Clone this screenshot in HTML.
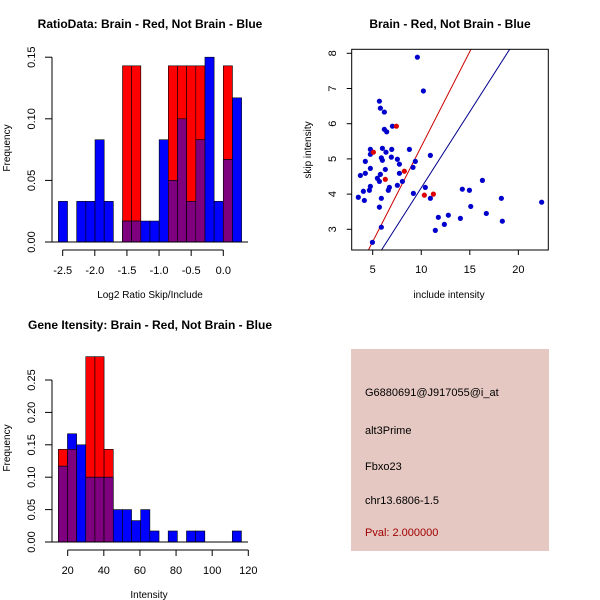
<!DOCTYPE html>
<html><head><meta charset="utf-8"><style>
html,body{margin:0;padding:0;background:#fff}
svg{display:block;font-family:"Liberation Sans",sans-serif}
</style></head><body>
<svg id="c" width="600" height="600" viewBox="0 0 600 600"></svg>
<script>
// ---- Data: RatioData histogram ----
const ratioStart = -2.567, ratioWidth = 0.1426;
const ratioBrain = [0,0,0,0,0,0,0,0.143,0.143,0,0,0,0.143,0.143,0.143,0.143,0,0,0.143,0];
const ratioNotBrain = [0.033,0,0.033,0.033,0.083,0.033,0,0.017,0.017,0.017,0.017,0.083,0.05,0.1,0.033,0.083,0.15,0.033,0.067,0.117];
const ratioXTicks = [-2.5,-2.0,-1.5,-1.0,-0.5,0.0];
const ratioXTickLabels = ["-2.5","-2.0","-1.5","-1.0","-0.5","0.0"];
const ratioYTicks = [0,0.05,0.10,0.15];
const ratioYTickLabels = ["0.00","0.05","0.10","0.15"];
// ---- Data: scatter ----
const blueX = [9.6,10.22,5.69,5.79,6.2,6.2,6.44,7.03,6.0,6.96,8.78,4.76,4.76,6.37,10.94,5.89,6.0,6.92,4.24,9.39,7.54,7.75,6.3,4.76,3.73,4.24,5.79,7.75,9.15,5.48,5.69,8.06,7.54,6.72,6.61,4.76,4.66,10.42,4.04,3.52,4.14,9.19,10.94,14.23,14.96,16.3,5.89,5.69,15.1,18.25,22.4,16.7,18.35,12.79,11.76,14.03,12.38,11.45,5.89,4.97];
const blueY = [7.89,6.93,6.64,6.44,6.33,5.84,5.77,5.93,5.30,5.27,5.27,5.27,5.13,5.19,5.10,5.03,4.96,5.05,4.93,4.93,4.99,4.85,4.70,4.73,4.53,4.59,4.56,4.59,4.76,4.45,4.36,4.36,4.25,4.19,4.11,4.22,4.11,4.19,4.08,3.91,3.82,4.02,3.88,4.14,4.11,4.39,3.88,3.63,3.65,3.88,3.77,3.45,3.23,3.40,3.34,3.31,3.14,2.97,3.06,2.63];
const redX = [7.44,5.07,6.3,8.26,10.32,11.25];
const redY = [5.93,5.19,4.42,4.65,3.97,4.0];
const redLine = [-0.05,0.54];   // intercept, slope
const blueLine = [-0.14,0.432];
const scXTicks = [5,10,15,20];
const scYTicks = [3,4,5,6,7,8];
// ---- Data: Gene intensity histogram ----
const intStart = 14.8, intWidth = 5.07;
const intBrain = [0.143,0.143,0,0.286,0.286,0.143,0,0,0,0,0,0,0,0,0,0,0,0,0,0];
const intNotBrain = [0.117,0.167,0.15,0.1,0.1,0.1,0.05,0.05,0.033,0.05,0.017,0,0.017,0,0.017,0.017,0,0,0,0.017];
const intXTicks = [20,40,60,80,100,120];
const intYTicks = [0,0.05,0.10,0.15,0.20,0.25];
const intYTickLabels = ["0.00","0.05","0.10","0.15","0.20","0.25"];

const svg = document.getElementById('c');
const NS = 'http://www.w3.org/2000/svg';
function mk(tag, attrs, parent){
  const e = document.createElementNS(NS, tag);
  for (const k in attrs) e.setAttribute(k, attrs[k]);
  (parent||svg).appendChild(e);
  return e;
}
function txt(s, x, y, size, attrs, parent){
  const t = mk('text', Object.assign({x:x, y:y, 'font-size':size, 'text-anchor':'middle', fill:'#000'}, attrs||{}), parent);
  t.textContent = s;
  return t;
}

function histogram(name, g, start, width, brain, notBrain, sx, sy, x0, y0){
  for (let i=0;i<brain.length;i++){
    const xa = sx(start+i*width), xb = sx(start+(i+1)*width);
    const r = brain[i], b = notBrain[i];
    const m = Math.min(r,b);
    if (r>0){
      const e = mk('rect',{x:xa,y:sy(r),width:xb-xa,height:sy(0)-sy(r),fill:'#ff0000',stroke:'#000','stroke-width':0.6},g);
      
      
    }
    if (b>0){
      const e = mk('rect',{x:xa,y:sy(b),width:xb-xa,height:sy(0)-sy(b),fill:b>r?'#0000ff':'none',stroke:'#000','stroke-width':0.6},g);
      
      
    }
    if (m>0){
      const e = mk('rect',{x:xa,y:sy(m),width:xb-xa,height:sy(0)-sy(m),fill:'#7f007f',stroke:'#000','stroke-width':0.6},g);
      
      
    }
  }
}

function yAxis(g, ticks, labels, sy, x){
  mk('line',{x1:x,y1:sy(ticks[0]),x2:x,y2:sy(ticks[ticks.length-1]),stroke:'#000'},g);
  ticks.forEach((v,i)=>{
    mk('line',{x1:x-7,y1:sy(v),x2:x,y2:sy(v),stroke:'#000'},g);
    const t = txt(labels[i], x-17, sy(v), 11, {transform:`rotate(-90 ${x-17} ${sy(v)})`}, g);
    
    
  });
}
function xAxis(g, ticks, labels, sx, y){
  mk('line',{x1:sx(ticks[0]),y1:y,x2:sx(ticks[ticks.length-1]),y2:y,stroke:'#000'},g);
  ticks.forEach((v,i)=>{
    mk('line',{x1:sx(v),y1:y,x2:sx(v),y2:y+6,stroke:'#000'},g);
    const t = txt(labels[i], sx(v), y+24, 11, {}, g);
    
    
  });
}

// Panel 1
(function(){
  const g = mk('g',{});
  
  
  const sx = v => 223.3 + v*64.25;
  const sy = v => 242 - v*1232;
  histogram('ratio', g, ratioStart, ratioWidth, ratioBrain, ratioNotBrain, sx, sy);
  mk('line',{x1:52,y1:242,x2:248,y2:242,stroke:'#000'},g);
  yAxis(g, ratioYTicks, ratioYTickLabels, sy, 52);
  xAxis(g, ratioXTicks, ratioXTickLabels, sx, 250);
  let t = txt('RatioData: Brain - Red, Not Brain - Blue', 150, 28, 12, {'font-weight':'bold'}, g);
   
  t = txt('Log2 Ratio Skip/Include', 150, 298, 10, {}, g);
   
  t = txt('Frequency', 10, 148, 10, {transform:'rotate(-90 10 148)'}, g);
   
})();

// Panel 2 scatter
(function(){
  const g = mk('g',{});
  
  
  const sx = v => 372.7 + (v-5)*9.71;
  const sy = v => 229.3 - (v-3)*35.2;
  const L=351.7,R=548.3,T=49.3,B=250;
  mk('clipPath',{id:'clip'},g).appendChild(Object.assign(document.createElementNS(NS,'rect')));
  const cr = g.querySelector('#clip rect');
  cr.setAttribute('x',L);cr.setAttribute('y',T);cr.setAttribute('width',R-L);cr.setAttribute('height',B-T);
  const xmin=2.84,xmax=23.08;
  [[redLine,'#cc0000','red-fit-line'],[blueLine,'#00008b','blue-fit-line']].forEach(([ln,col,nm])=>{
    const e = mk('line',{x1:sx(xmin),y1:sy(ln[0]+ln[1]*xmin),x2:sx(xmax),y2:sy(ln[0]+ln[1]*xmax),stroke:col,'stroke-width':1,'clip-path':'url(#clip)'},g);
    
    
  });
  blueX.forEach((v,i)=>{
    const e = mk('circle',{cx:sx(v),cy:sy(blueY[i]),r:2.6,fill:'#0000cc'},g);
    
    
  });
  redX.forEach((v,i)=>{
    const e = mk('circle',{cx:sx(v),cy:sy(redY[i]),r:2.6,fill:'#dd0000'},g);
    
    
  });
  mk('rect',{x:L,y:T,width:R-L,height:B-T,fill:'none',stroke:'#000'},g);
  scXTicks.forEach(v=>{
    mk('line',{x1:sx(v),y1:B,x2:sx(v),y2:B+5,stroke:'#000'},g);
    const t = txt(String(v), sx(v), 273, 11, {}, g);
     
  });
  scYTicks.forEach(v=>{
    mk('line',{x1:L-5,y1:sy(v),x2:L,y2:sy(v),stroke:'#000'},g);
    const t = txt(String(v), 336, sy(v), 11, {transform:`rotate(-90 336 ${sy(v)})`}, g);
     
  });
  let t = txt('Brain - Red, Not Brain - Blue', 450, 28, 12, {'font-weight':'bold'}, g);
   
  t = txt('include intensity', 449, 298, 10, {}, g);
   
  t = txt('skip intensity', 311, 150, 10, {transform:'rotate(-90 311 150)'}, g);
   
})();

// Panel 3
(function(){
  const g = mk('g',{});
  
  
  const sx = v => 67.7 + (v-20)*1.806;
  const sy = v => 542 - v*648;
  histogram('intensity', g, intStart, intWidth, intBrain, intNotBrain, sx, sy);
  mk('line',{x1:52,y1:542,x2:248,y2:542,stroke:'#000'},g);
  yAxis(g, intYTicks, intYTickLabels, sy, 52);
  xAxis(g, intXTicks, intXTicks.map(String), sx, 550);
  let t = txt('Gene Itensity: Brain - Red, Not Brain - Blue', 150, 329, 12, {'font-weight':'bold'}, g);
   
  t = txt('Intensity', 149, 598, 10, {}, g);
   
  t = txt('Frequency', 10, 448, 10, {transform:'rotate(-90 10 448)'}, g);
   
})();

// Panel 4 info box
(function(){
  const g = mk('g',{});
  
  
  mk('rect',{x:351,y:349,width:198,height:202,fill:'#e5c8c2'},g);
  const lines = [['G6880691@J917055@i_at',396,'#000','probe-id'],['alt3Prime',434,'#000','event-type'],['Fbxo23',470,'#000','gene-name'],['chr13.6806-1.5',504,'#000','location'],['Pval: 2.000000',536,'#a00000','p-value']];
  lines.forEach(([s,y,c,n])=>{
    const t = txt(s, 365, y, 11, {'text-anchor':'start',fill:c}, g);
    
    
  });
})();
</script>
</body></html>
